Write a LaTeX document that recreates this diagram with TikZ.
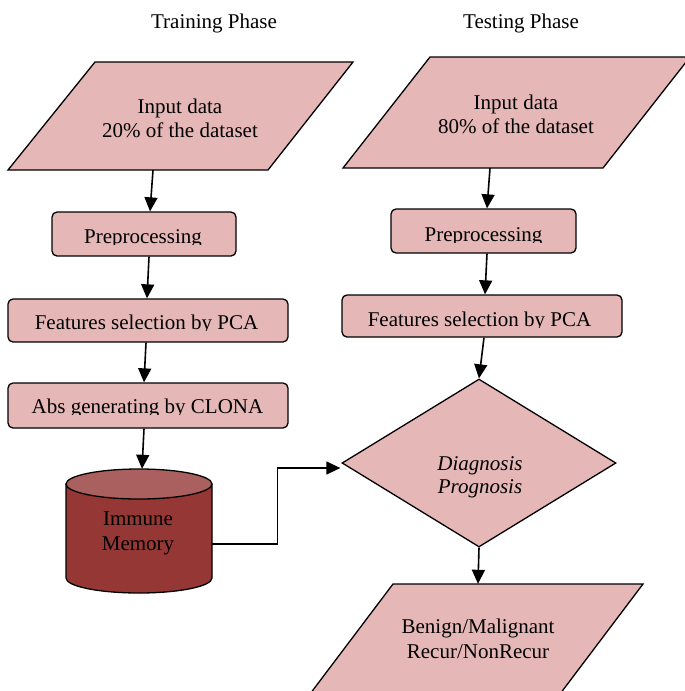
\documentclass[tikz,border=0pt]{standalone}
\usepackage{fontspec}
\setmainfont{Liberation Serif}
\usetikzlibrary{arrows.meta,shapes.geometric,calc}
\definecolor{boxfill}{RGB}{229,184,183}
\definecolor{cylbody}{RGB}{149,55,53}
\definecolor{cyltop}{RGB}{170,96,94}
\begin{document}
\begin{tikzpicture}[x=1pt,y=-1pt,
  font=\fontsize{21}{24}\selectfont,
  shapeline/.style={draw=black, line width=1.3pt, fill=boxfill},
  procbox/.style={shapeline, rounded corners=5pt, inner sep=0pt},
  ghost/.style={inner sep=0pt, draw=none},
  conn/.style={line width=1.6pt, -{Triangle[length=14pt,width=13pt]}},
  lbl/.style={anchor=base, inner sep=0pt}]
\useasboundingbox (0,0) rectangle (685,691);
\clip (0,0) rectangle (685,691);

% titles
\node[lbl] (t1) at (214,28) {Training Phase};
\node[lbl] (t2) at (521,28) {Testing Phase};

% ---------- training column ----------
\filldraw[shapeline] (95,62) -- (353,62) -- (268,170) -- (8,170) -- cycle;
\node[ghost, minimum width=345, minimum height=108] (in1) at (180.5,116) {};
\node[lbl] at (180,113) {Input data};
\node[lbl] at (180,137) {20\% of the dataset};

\node[procbox, minimum width=184, minimum height=44] (pre1) at (144,234) {};
\begin{scope}\clip (52,212) rectangle (236,244.5);
\node[lbl] at (143,243) {Preprocessing};\end{scope}

\node[procbox, minimum width=280, minimum height=43] (fs1) at (148,320.5) {};
\begin{scope}\clip (8,299) rectangle (288,330.5);
\node[lbl] at (146.5,329) {Features selection by PCA};\end{scope}

\node[procbox, minimum width=280, minimum height=45] (abs1) at (148,405.5) {};
\begin{scope}\clip (8,383) rectangle (288,414.5);
\node[lbl] at (147.5,413) {Abs generating by CLONA};\end{scope}

% cylinder
\filldraw[fill=cylbody, draw=black, line width=1.3pt]
  (66,484) -- (66,578) arc[start angle=180, end angle=0, x radius=73, y radius=15] -- (212,484) -- cycle;
\filldraw[fill=cyltop, draw=black, line width=1.3pt] (139,484) ellipse [x radius=73, y radius=15];
\node[ghost, minimum width=146, minimum height=124] (mem) at (139,531) {};
\node[lbl] at (138,525) {Immune};
\node[lbl] at (138,550) {Memory};

% ---------- testing column ----------
\filldraw[shapeline] (430,57) -- (690,57) -- (603,168) -- (343,168) -- cycle;
\node[ghost, minimum width=342, minimum height=111] (in2) at (514,112.5) {};
\node[lbl] at (516,109) {Input data};
\node[lbl] at (516,133) {80\% of the dataset};

\node[procbox, minimum width=185, minimum height=44] (pre2) at (483.5,231) {};
\begin{scope}\clip (391,209) rectangle (576,242.5);
\node[lbl] at (483.5,241) {Preprocessing};\end{scope}

\node[procbox, minimum width=280, minimum height=42] (fs2) at (482,316) {};
\begin{scope}\clip (342,295) rectangle (622,327.5);
\node[lbl] at (479.5,326) {Features selection by PCA};\end{scope}

\node[diamond, shapeline, inner sep=0pt, minimum width=274, minimum height=168] (diag) at (479,463) {};
\node[lbl, font=\fontsize{21}{24}\selectfont\itshape] at (480,470) {Diagnosis};
\node[lbl, font=\fontsize{21}{24}\selectfont\itshape] at (480,493) {Prognosis};

\filldraw[shapeline] (393,584) -- (643,584) -- (560,694) -- (310,694) -- cycle;
\node[ghost, minimum width=330, minimum height=106] (out) at (478,637) {};
\node[lbl] at (478,633) {Benign/Malignant};
\node[lbl] at (478,658) {Recur/NonRecur};

% ---------- connectors ----------
\draw[conn] ($(in1.south)+(-27.5,0)$) -- ($(pre1.north)+(6,0)$);
\draw[conn] ($(pre1.south)+(5,0)$) -- ($(fs1.north)+(-1,0)$);
\draw[conn] ($(fs1.south)+(-2,0)$) -- ($(abs1.north)+(-4,0)$);
\draw[conn] ($(abs1.south)+(-4,0)$) -- ($(mem.north)+(3,0)$);

\draw[conn] ($(in2.south)+(-24,0)$) -- ($(pre2.north)+(3.5,0)$);
\draw[conn] ($(pre2.south)+(3.5,0)$) -- ($(fs2.north)+(3,0)$);
\draw[conn] ($(fs2.south)+(2,0)$) -- (diag.north);
\draw[conn] (diag.south) -- ($(out.north)+(0,0)$);

\draw[line width=1.3pt, -{Triangle[length=14pt,width=13pt]}]
  ($(mem.east)+(0,13)$) -- ++(65,0) |- ($(diag.west)+(-1,5)$);
\end{tikzpicture}
\end{document}
